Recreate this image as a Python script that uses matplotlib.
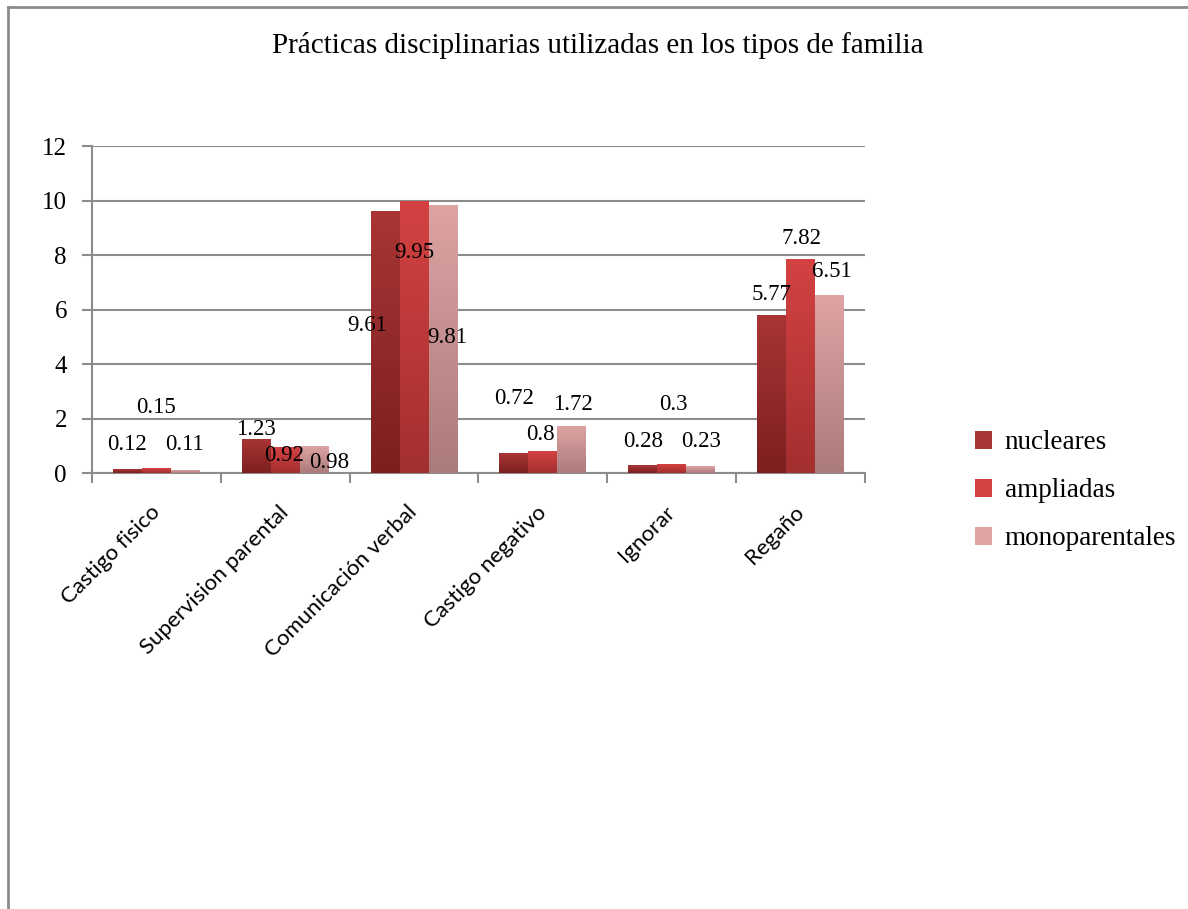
import numpy as np
import matplotlib.pyplot as plt
from matplotlib.colors import LinearSegmentedColormap
from matplotlib.patches import Patch

# datos del grafico
categorias = ['Castigo fisico', 'Supervision parental', 'Comunicación verbal',
              'Castigo negativo', 'Ignorar', 'Regaño']
series = ['nucleares', 'ampliadas', 'monoparentales']
nucleares = [0.12, 1.23, 9.61, 0.72, 0.28, 5.77]
ampliadas = [0.15, 0.92, 9.95, 0.80, 0.30, 7.82]
monoparentales = [0.11, 0.98, 9.81, 1.72, 0.23, 6.51]
valores = [nucleares, ampliadas, monoparentales]

# colores degradados (arriba, abajo) de cada serie
colores = [('#a93535', '#7c1f1f'), ('#d44242', '#a32f2f'), ('#dea3a3', '#ac7b7b')]

# posicion de las etiquetas: desplazamiento x (en unidades de categoria) y altura y
etiq_dx = [[0.0, 0.0, -0.01],
           [0.0, -0.01, 0.12],
           [-0.14, 0.0, 0.03],
           [0.0, -0.02, 0.01],
           [0.0, 0.01, 0.0],
           [0.0, 0.01, 0.02]]
etiq_y = [[1.03, 2.39, 1.03],
          [1.58, 0.66, 0.40],
          [5.43, 8.11, 4.99],
          [2.75, 1.43, 2.53],
          [1.14, 2.53, 1.14],
          [6.57, 8.62, 7.38]]

serif = 'Liberation Serif'
fig = plt.figure(figsize=(11.88, 9.09), dpi=100)
ax = fig.add_axes([0.0774, 0.4796, 0.6507, 0.3597])

x = np.arange(len(categorias))
ancho = 0.225
grad = np.linspace(0, 1, 100).reshape(-1, 1)
for s in range(3):
    cmap = LinearSegmentedColormap.from_list('s%d' % s, [colores[s][1], colores[s][0]])
    for i in range(len(categorias)):
        xc = x[i] + (s - 1) * ancho
        v = valores[s][i]
        ax.imshow(grad, cmap=cmap, origin='lower', aspect='auto', zorder=3,
                  extent=[xc - ancho / 2, xc + ancho / 2, 0, v], interpolation='bilinear')
        ax.text(xc + etiq_dx[i][s], etiq_y[i][s], ('%g' % v), ha='center', va='center',
                fontsize=16.5, family=serif, zorder=5)

ax.set_xlim(-0.5, len(categorias) - 0.5)
ax.set_ylim(0, 12)
ax.set_yticks(range(0, 13, 2))
ax.set_yticklabels([str(t) for t in range(0, 13, 2)], fontsize=18, family=serif)
ax.grid(axis='y', color='#8c8c8c', lw=1.5, zorder=1)
ax.set_axisbelow(True)
for lado in ['top', 'right']:
    ax.spines[lado].set_visible(False)
ax.spines['left'].set_color('#8c8c8c')
ax.spines['left'].set_linewidth(1.5)
ax.spines['bottom'].set_color('#8c8c8c')
ax.spines['bottom'].set_linewidth(1.5)
ax.tick_params(axis='y', length=7, width=1.5, color='#8c8c8c', pad=11)

# marcas del eje x entre categorias
ax.set_xticks(np.arange(-0.5, len(categorias), 1.0), minor=False)
ax.set_xticklabels([])
ax.tick_params(axis='x', length=7, width=1.5, color='#8c8c8c', direction='out')
for i, c in enumerate(categorias):
    ax.annotate(c, (x[i], 0), xytext=(-5, -21), textcoords='offset points',
                rotation=45, ha='right', va='top', rotation_mode='anchor',
                fontsize=16, family='Lato')

fig.text(0.503, 0.95, 'Prácticas disciplinarias utilizadas en los tipos de familia',
         ha='center', va='center', fontsize=21, family=serif)

handles = [Patch(facecolor=colores[s][0], edgecolor='none') for s in range(3)]
leg = fig.legend(handles, series, loc='center left', bbox_to_anchor=(0.8, 0.46),
                 frameon=False, prop={'family': serif, 'size': 19.5},
                 handlelength=0.65, handleheight=0.65, handletextpad=0.45, labelspacing=0.85)

# borde del area del grafico
fig.add_artist(plt.Line2D([0.007, 1.0], [0.992, 0.992], color='#8c8c8c', lw=2))
fig.add_artist(plt.Line2D([0.007, 0.007], [0.0, 0.992], color='#8c8c8c', lw=2))

fig.savefig('out.png', dpi=100)
